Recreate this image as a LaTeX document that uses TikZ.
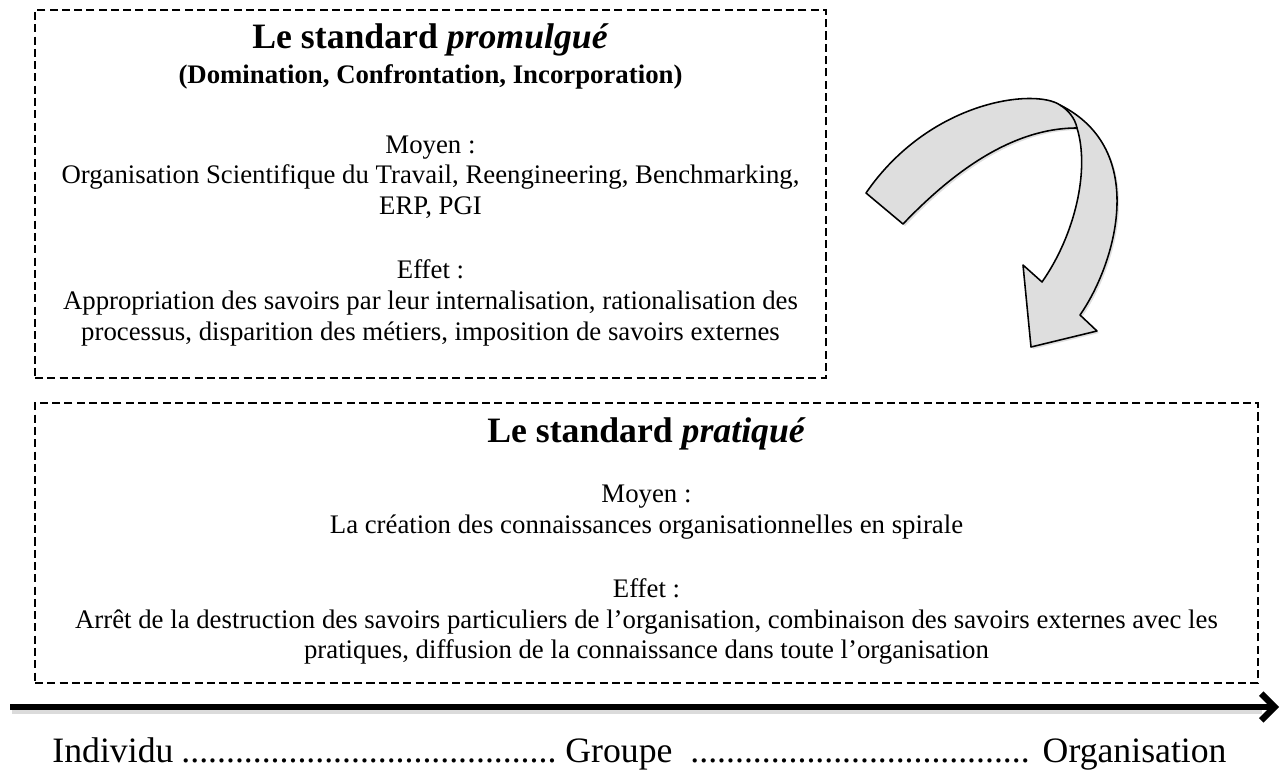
\documentclass[tikz,border=0pt]{standalone}
\usepackage{fontspec}
\setmainfont{Liberation Serif}
\usetikzlibrary{arrows.meta,shadows,fit}
\newcommand{\mydots}{\leaders\hbox to 0.25em{\hss.\hss}\hfill}
\begin{document}
\begin{tikzpicture}[x=0.448pt,y=-0.448pt,
  dbox/.style={draw, dash pattern=on 3.6pt off 1.9pt, line width=0.6pt, inner sep=0pt},
  body/.style={anchor=base, font=\fontsize{12}{13.8}\selectfont, inner sep=0pt},
  btitle/.style={anchor=base, font=\fontsize{16}{18.4}\selectfont\bfseries, inner sep=0pt},
  bsub/.style={anchor=base, font=\fontsize{12}{13.8}\selectfont\bfseries, inner sep=0pt},
  scaletext/.style={font=\fontsize{16}{18.4}\selectfont, inner sep=0pt},
  axisline/.style={line width=2.8pt, -{Straight Barb[length=6pt,width=12pt,line width=2.8pt]}},
  axshadow/.style={line width=3pt, black!20, opacity=0.7},
  bigarrow/.style={fill=black!13, draw=black, line width=0.7pt, line join=round,
    drop shadow={opacity=0.25, shadow xshift=0.9pt, shadow yshift=-0.9pt}}]
\useasboundingbox (0,0) rectangle (1282,772);

% ---- boxes
\node[dbox, fit={(35,10) (826,378)}] (promulgue) {};
\node[dbox, fit={(35,403) (1258,683)}] (pratique) {};

% ---- top box text
\node[btitle] (t1) at (430.5,49) {Le standard \textit{promulgué}};
\node[bsub] (t1s) at (430.5,84) {(Domination, Confrontation, Incorporation)};
\node[body] (m1) at (430.5,154) {Moyen :};
\node[body] (m1a) at (430.5,184) {Organisation Scientifique du Travail, Reengineering, Benchmarking,};
\node[body] (m1b) at (430.5,215) {ERP, PGI};
\node[body] (e1) at (430.5,279) {Effet :};
\node[body] (e1a) at (430.5,310) {Appropriation des savoirs par leur internalisation, rationalisation des};
\node[body] (e1b) at (430.5,341) {processus, disparition des métiers, imposition de savoirs externes};

% ---- lower box text
\node[btitle] (t2) at (646.5,443) {Le standard \textit{pratiqué}};
\node[body] (m2) at (646.5,503) {Moyen :};
\node[body] (m2a) at (646.5,534) {La création des connaissances organisationnelles en spirale};
\node[body] (e2) at (646.5,597) {Effet :};
\node[body] (e2a) at (646.5,628) {Arrêt de la destruction des savoirs particuliers de l’organisation, combinaison des savoirs externes avec les};
\node[body] (e2b) at (646.5,658) {pratiques, diffusion de la connaissance dans toute l’organisation};

% ---- curved arrow
\path[bigarrow] (866,193) -- (903,224)
  .. controls (950,175) and (1010,128) .. (1077,128)
  .. controls (1090,170) and (1075,235) .. (1042,282)
  -- (1023,265) -- (1031,347) -- (1097,331) -- (1080,315)
  .. controls (1115,265) and (1150,150) .. (1060,105)
  .. controls (1035,88) and (930,100) .. (866,193) -- cycle;
\draw[line width=0.7pt] (1060,105) .. controls (1068,110) and (1075,118) .. (1077,128);

% ---- axis
\coordinate (axstart) at (10,707);
\coordinate (axend) at (1279,707);
\coordinate (shstart) at (12,711);
\coordinate (shend) at (1262,711);
\draw[axshadow] (shstart) -- (shend);
\draw[axisline] (axstart) -- (axend);

% ---- scale text
\node[scaletext, anchor=base west] (ind) at (52,762) {Individu};
\node[scaletext, anchor=base west] (dots1) at (181,762) {\hbox to 170pt{\mydots}};
\node[scaletext, anchor=base west] (grp) at (565,762) {Groupe};
\node[scaletext, anchor=base west] (dots2) at (690,762) {\hbox to 153pt{\mydots}};
\node[scaletext, anchor=base east] (org) at (1227,762) {Organisation};
\end{tikzpicture}
\end{document}
